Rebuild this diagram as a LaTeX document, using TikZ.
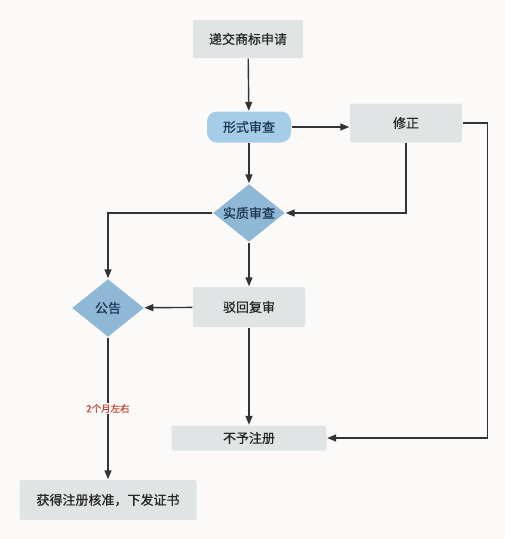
\documentclass[tikz,border=0pt]{standalone}
\usepackage{fontspec}
\setmainfont{Noto Sans CJK SC}[FakeBold=0.5,AutoFakeBold=0.5]
\usetikzlibrary{shapes.geometric,arrows.meta}

\definecolor{bggray}{HTML}{FCFAF9}
\definecolor{boxgray}{HTML}{E1E4E4}
\definecolor{stepblue}{HTML}{A6CDE8}
\definecolor{checkblue}{HTML}{8FB7D6}
\definecolor{navytext}{HTML}{1C3550}
\definecolor{linegray}{HTML}{333333}
\definecolor{notered}{HTML}{C0452F}

\begin{document}
\begin{tikzpicture}[->,>={Triangle[length=9pt,width=7pt]},line width=1.4pt,draw=linegray,node distance=88pt,
    main node/.style={font=\fontsize{13}{15}\selectfont\bfseries,inner sep=0pt},
    gray box/.style={main node,rectangle,rounded corners=2pt,fill=boxgray,text=black!85},
    blue box/.style={main node,rectangle,rounded corners=10pt,fill=stepblue,text=navytext,minimum width=84pt,minimum height=31pt},
    check node/.style={main node,diamond,aspect=1.2,fill=checkblue,text=navytext,minimum width=72pt,minimum height=58pt}]

            \fill[bggray] (0,0) rectangle (505pt,-539pt);
            \useasboundingbox (0,0) rectangle (505pt,-539pt);

            \node[gray box, minimum width=110pt, minimum height=38pt] (1) at (248pt,-39pt) {递交商标申请};

            \node[blue box] (2) [below of=1, xshift=1pt]{形式审查};
            \node[gray box, minimum width=112pt, minimum height=39pt] (3) [right of=2, xshift=69pt, yshift=4pt]{修正};

            \node[check node] (4) [below of=2, yshift=2pt]{实质审查};
            \node[gray box, minimum width=112pt, minimum height=40pt] (6) [below of=4, yshift=-6pt]{驳回复审};
            \node[check node] (5) [left of=6, xshift=-53pt, yshift=-1pt]{公告};

            \node[gray box, minimum width=155pt, minimum height=25pt] (7) [below of=6, yshift=-43pt]{不予注册};
            \node[gray box, minimum width=177pt, minimum height=40pt] (8) [below of=5, yshift=-104pt]{获得注册核准，下发证书};

            \path
                (1) edge (2)
                (2.east) edge (2.east -| 3.west)
                (2) edge (4)
                (4) edge (6)
                (6) edge (5)
                (6) edge (7)
                (5) edge node[fill=bggray, inner sep=1pt, text=notered, font=\fontsize{9.5}{11}\selectfont\bfseries]{2个月左右} (8)
                ;

            \draw (3.south) |- (4.east);
            \draw (3.east) -- ++(25pt,0) |- (7.east);
            \draw (4.west) -| (5.north);
        \end{tikzpicture}
\end{document}
